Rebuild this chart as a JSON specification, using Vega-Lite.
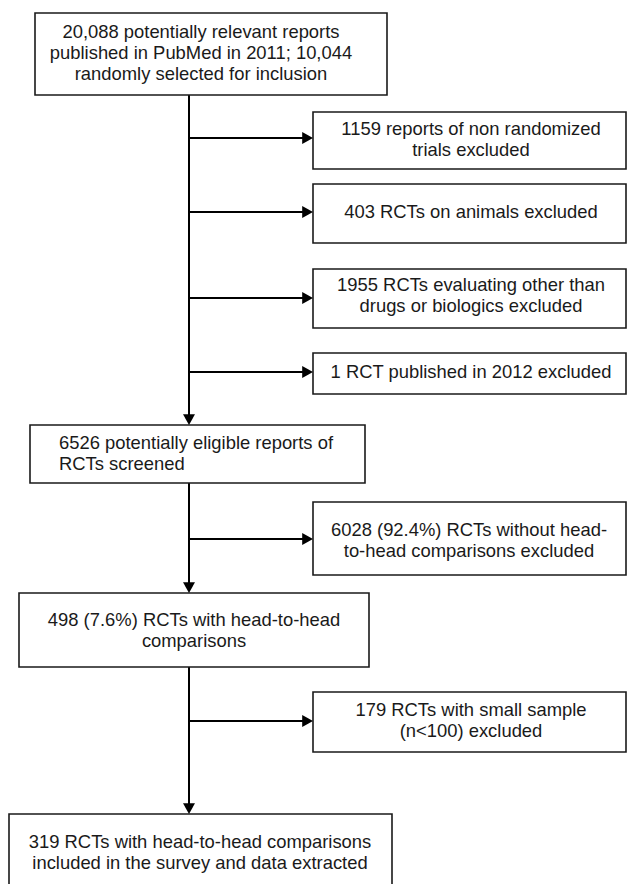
{
  "$schema": "https://vega.github.io/schema/vega-lite/v6.json",
  "width": 627,
  "height": 884,
  "autosize": "none",
  "padding": 0,
  "background": "white",
  "config": {"view": {"stroke": null}},
  "datasets": {
    "boxes": [
      {"id": "b1", "x1": 35, "x2": 387, "y1": 13, "y2": 95, "tx": 201, "ty": 32, "align": "center", "text": "20,088 potentially relevant reports\npublished in PubMed in 2011; 10,044\nrandomly selected for inclusion"},
      {"id": "b2", "x1": 313, "x2": 626, "y1": 112, "y2": 169, "tx": 471, "ty": 129, "align": "center", "text": "1159 reports of non randomized\ntrials excluded"},
      {"id": "b3", "x1": 313, "x2": 626, "y1": 184, "y2": 243, "tx": 471, "ty": 212, "align": "center", "text": "403 RCTs on animals excluded"},
      {"id": "b4", "x1": 313, "x2": 626, "y1": 269, "y2": 328, "tx": 471, "ty": 285, "align": "center", "text": "1955 RCTs evaluating other than\ndrugs or biologics excluded"},
      {"id": "b5", "x1": 313, "x2": 626, "y1": 353, "y2": 394, "tx": 471, "ty": 372, "align": "center", "text": "1 RCT published in 2012 excluded"},
      {"id": "b6", "x1": 30, "x2": 365, "y1": 425, "y2": 483, "tx": 59, "ty": 443, "align": "left", "text": "6526 potentially eligible reports of\nRCTs screened"},
      {"id": "b7", "x1": 313, "x2": 626, "y1": 502, "y2": 575, "tx": 469, "ty": 530, "align": "center", "text": "6028 (92.4%) RCTs without head-\nto-head comparisons excluded"},
      {"id": "b8", "x1": 19, "x2": 369, "y1": 593, "y2": 667, "tx": 194, "ty": 620, "align": "center", "text": "498 (7.6%) RCTs with head-to-head\ncomparisons"},
      {"id": "b9", "x1": 313, "x2": 626, "y1": 692, "y2": 752, "tx": 471, "ty": 710, "align": "center", "text": "179 RCTs with small sample\n(n<100) excluded"},
      {"id": "b10", "x1": 9, "x2": 392, "y1": 814, "y2": 892, "tx": 200, "ty": 842, "align": "center", "text": "319 RCTs with head-to-head comparisons\nincluded in the survey and data extracted"}
    ],
    "segments": [
      {"x1": 189, "y1": 95, "x2": 189, "y2": 416},
      {"x1": 189, "y1": 483, "x2": 189, "y2": 584},
      {"x1": 189, "y1": 667, "x2": 189, "y2": 805},
      {"x1": 189, "y1": 138, "x2": 304, "y2": 138},
      {"x1": 189, "y1": 212, "x2": 304, "y2": 212},
      {"x1": 189, "y1": 298, "x2": 304, "y2": 298},
      {"x1": 189, "y1": 372, "x2": 304, "y2": 372},
      {"x1": 189, "y1": 539, "x2": 304, "y2": 539},
      {"x1": 189, "y1": 721, "x2": 304, "y2": 721}
    ],
    "heads": [
      {"x": 313, "y": 138, "dir": "right"},
      {"x": 313, "y": 212, "dir": "right"},
      {"x": 313, "y": 298, "dir": "right"},
      {"x": 313, "y": 372, "dir": "right"},
      {"x": 313, "y": 539, "dir": "right"},
      {"x": 313, "y": 721, "dir": "right"},
      {"x": 189, "y": 425, "dir": "down"},
      {"x": 189, "y": 593, "dir": "down"},
      {"x": 189, "y": 814, "dir": "down"}
    ]
  },
  "layer": [
    {
      "data": {"name": "segments"},
      "mark": {"type": "rule", "color": "#000000", "strokeWidth": 2},
      "encoding": {
        "x": {"field": "x1", "type": "quantitative", "scale": {"domain": [0, 627], "nice": false, "zero": false}, "axis": null},
        "y": {"field": "y1", "type": "quantitative", "scale": {"domain": [0, 884], "nice": false, "zero": false, "reverse": true}, "axis": null},
        "x2": {"field": "x2"},
        "y2": {"field": "y2"}
      }
    },
    {
      "data": {"name": "boxes"},
      "mark": {"type": "rect", "fill": "white", "stroke": "#1a1a1a", "strokeWidth": 1.6, "clip": true},
      "encoding": {
        "x": {"field": "x1", "type": "quantitative", "scale": {"domain": [0, 627], "nice": false, "zero": false}, "axis": null},
        "y": {"field": "y1", "type": "quantitative", "scale": {"domain": [0, 884], "nice": false, "zero": false, "reverse": true}, "axis": null},
        "x2": {"field": "x2"},
        "y2": {"field": "y2"}
      }
    },
    {
      "data": {"name": "heads"},
      "mark": {"type": "point", "filled": true, "color": "#000000", "opacity": 1, "strokeWidth": 0, "size": 144},
      "encoding": {
        "x": {"field": "x", "type": "quantitative", "scale": {"domain": [0, 627], "nice": false, "zero": false}, "axis": null},
        "y": {"field": "y", "type": "quantitative", "scale": {"domain": [0, 884], "nice": false, "zero": false, "reverse": true}, "axis": null},
        "shape": {"field": "dir", "type": "nominal", "scale": {"domain": ["right", "down"], "range": ["M0,0L-1.8,-1L-1.8,1Z", "M0,0L-1,-1.8L1,-1.8Z"]}, "legend": null}
      }
    },
    {
      "data": {"name": "boxes"},
      "transform": [{"filter": "datum.align === 'center'"}],
      "mark": {"type": "text", "align": "center", "font": "Liberation Sans", "fontSize": 18.4, "lineHeight": 21, "lineBreak": "\n", "baseline": "middle", "color": "#1a1a1a"},
      "encoding": {
        "x": {"field": "tx", "type": "quantitative", "scale": {"domain": [0, 627], "nice": false, "zero": false}, "axis": null},
        "y": {"field": "ty", "type": "quantitative", "scale": {"domain": [0, 884], "nice": false, "zero": false, "reverse": true}, "axis": null},
        "text": {"field": "text"}
      }
    },
    {
      "data": {"name": "boxes"},
      "transform": [{"filter": "datum.align === 'left'"}],
      "mark": {"type": "text", "align": "left", "font": "Liberation Sans", "fontSize": 18.4, "lineHeight": 21, "lineBreak": "\n", "baseline": "middle", "color": "#1a1a1a"},
      "encoding": {
        "x": {"field": "tx", "type": "quantitative", "scale": {"domain": [0, 627], "nice": false, "zero": false}, "axis": null},
        "y": {"field": "ty", "type": "quantitative", "scale": {"domain": [0, 884], "nice": false, "zero": false, "reverse": true}, "axis": null},
        "text": {"field": "text"}
      }
    }
  ]
}
